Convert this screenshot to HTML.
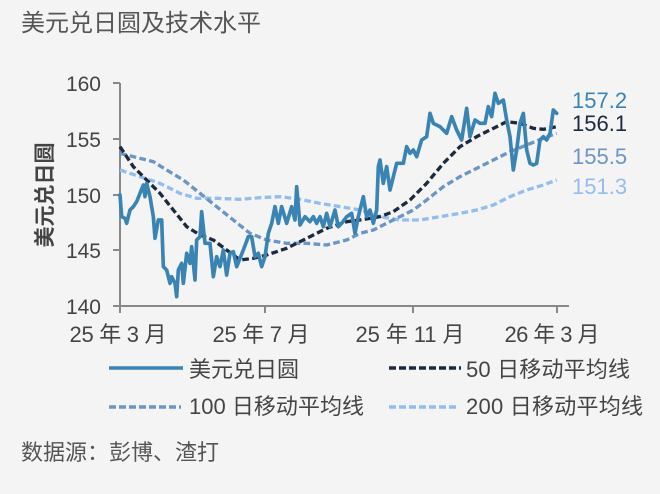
<!DOCTYPE html>
<html><head><meta charset="utf-8"><style>
body{margin:0;background:#f4f4f4;}
svg{display:block;font-family:"Liberation Sans","Noto Sans CJK SC",sans-serif;}
</style></head><body>
<svg width="660" height="494" viewBox="0 0 660 494">
<rect width="660" height="494" fill="#f4f4f4"/>
<text x="21" y="31" font-size="24" fill="#555">美元兑日圆及技术水平</text>
<g stroke="#888" stroke-width="2" fill="none">
<line x1="120" y1="83" x2="120" y2="307"/>
<line x1="113" y1="306" x2="569" y2="306"/>
<line x1="113" y1="83" x2="120" y2="83"/><line x1="113" y1="139" x2="120" y2="139"/>
<line x1="113" y1="195" x2="120" y2="195"/><line x1="113" y1="250" x2="120" y2="250"/>
<line x1="120" y1="306" x2="120" y2="313"/><line x1="265" y1="306" x2="265" y2="313"/>
<line x1="413" y1="306" x2="413" y2="313"/><line x1="557" y1="306" x2="557" y2="313"/>
</g>
<g font-size="21" fill="#444" text-anchor="end">
<text x="101" y="91">160</text><text x="101" y="147">155</text><text x="101" y="203">150</text><text x="101" y="258">145</text><text x="101" y="314">140</text>
</g>
<g font-size="22" fill="#444" text-anchor="middle">
<text x="118" y="342" textLength="97">25 年 3 月</text><text x="261" y="342" textLength="97">25 年 7 月</text><text x="410" y="342" textLength="109">25 年 11 月</text><text x="552" y="342" textLength="95">26 年 3 月</text>
</g>
<text transform="translate(52,195) rotate(-90)" font-size="21" font-weight="bold" fill="#444" text-anchor="middle">美元兑日圆</text>
<g fill="none" stroke-linejoin="round" stroke-linecap="round">
<g transform="translate(100,70) scale(0.33333)">
<polyline stroke="#92bdf0" stroke-width="10" stroke-dasharray="20,10" stroke-linecap="butt" points="60,300 120,320 180,340 240,370 290,385 350,385 420,388 480,383 540,380 600,388 660,400 720,410 780,420 840,440 900,450 960,450 1020,440 1080,430 1130,420 1180,405 1230,380 1280,360 1330,345 1370,330"/>
<polyline stroke="#6b95c4" stroke-width="10" stroke-dasharray="20,10" stroke-linecap="butt" points="60,250 120,265 160,275 200,300 250,330 300,370 350,410 400,450 450,490 500,510 560,520 620,520 680,525 740,510 780,490 820,480 860,460 900,440 940,420 980,390 1030,350 1080,320 1130,295 1180,270 1230,245 1280,225 1330,205 1370,190"/>
<polyline stroke="#1c2a3f" stroke-width="10" stroke-dasharray="20,10" stroke-linecap="butt" points="60,230 100,290 140,330 180,370 220,420 260,470 300,495 340,510 380,540 420,570 460,565 500,555 560,535 620,505 680,475 740,455 780,450 840,440 880,425 930,390 980,340 1030,280 1080,230 1130,200 1180,175 1220,155 1260,160 1300,175 1330,178 1370,170"/>
<polyline stroke="#3a84b4" stroke-width="11" points="60,375 65,440 75,445 80,460 90,420 100,410 110,395 120,370 130,345 135,380 140,340 150,380 160,440 165,505 175,450 185,450 190,590 200,600 210,640 215,620 225,640 230,680 235,600 245,580 250,640 260,550 270,580 275,530 285,630 290,510 300,500 305,425 315,520 330,520 340,620 350,560 360,590 370,540 380,615 390,550 400,545 410,590 430,540 445,500 455,500 465,560 475,550 485,590 495,560 505,490 515,460 525,410 535,460 545,410 560,460 575,410 585,450 590,350 600,465 615,440 630,455 640,440 650,460 660,440 670,470 680,430 690,470 705,420 715,470 725,460 740,440 755,430 765,490 775,440 790,380 800,440 810,420 820,460 830,420 835,290 840,270 850,340 860,290 870,360 880,320 890,280 910,280 920,230 930,250 940,240 950,260 965,210 980,200 990,130 1000,160 1020,170 1040,190 1055,140 1070,180 1085,210 1100,115 1110,200 1125,150 1140,160 1155,160 1165,110 1175,140 1185,70 1195,100 1210,90 1220,150 1230,200 1240,300 1250,240 1260,160 1270,130 1280,240 1290,280 1300,285 1310,280 1320,210 1330,200 1340,210 1350,190 1360,120 1370,130"/>
</g>
</g>
<g font-size="22">
<text x="572" y="108" fill="#3a84b4">157.2</text>
<text x="572" y="131" fill="#1c2a3f">156.1</text>
<text x="572" y="164" fill="#6b95c4">155.5</text>
<text x="572" y="194" fill="#92bdf0">151.3</text>
</g>
<g stroke-width="3.5" fill="none">
<line x1="109" y1="368" x2="183" y2="368" stroke="#3a84b4"/>
<line x1="389" y1="368" x2="461" y2="368" stroke="#1c2a3f" stroke-dasharray="7,3"/>
<line x1="109" y1="407" x2="181" y2="407" stroke="#6b95c4" stroke-dasharray="7,3"/>
<line x1="389" y1="407" x2="457" y2="407" stroke="#92bdf0" stroke-dasharray="7,3"/>
</g>
<g font-size="22" fill="#444">
<text x="189" y="377">美元兑日圆</text>
<text x="466" y="377" textLength="164">50 日移动平均线</text>
<text x="189" y="414" textLength="175">100 日移动平均线</text>
<text x="466" y="414" textLength="177">200 日移动平均线</text>
</g>
<text x="21" y="460" font-size="22" fill="#555">数据源：彭博、渣打</text>
</svg>
</body></html>
